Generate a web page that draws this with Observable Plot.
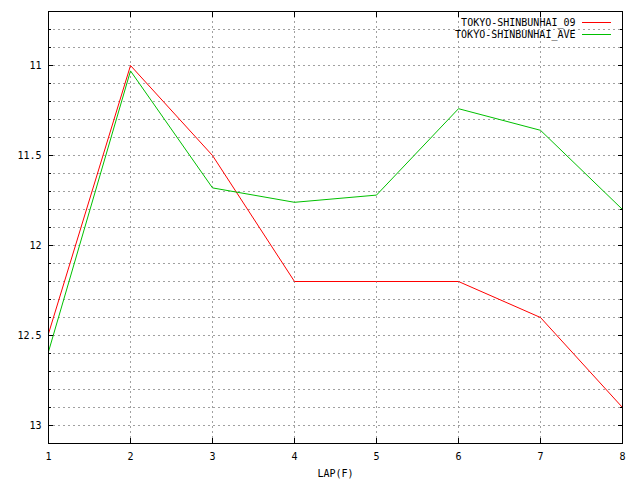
<!DOCTYPE html>
<html>
<head>
<meta charset="utf-8">
<script src="https://cdn.jsdelivr.net/npm/d3@7"></script>
<script src="https://cdn.jsdelivr.net/npm/@observablehq/plot@0.6"></script>
<style>
  body { margin: 0; background: #fff; }
</style>
</head>
<body>
<div id="chart"></div>
<script>
// laps (furlongs) and lap times
const laps = [1, 2, 3, 4, 5, 6, 7, 8]
const lap09 = [12.49, 11.0, 11.5, 12.2, 12.2, 12.2, 12.4, 12.9]
const lapAve = [12.59, 11.03, 11.68, 11.76, 11.72, 11.24, 11.36, 11.8]
const names = ['TOKYO-SHINBUNHAI_09', 'TOKYO-SHINBUNHAI_AVE']
const colors = ['#ff0000', '#00c000']

// ticks
const yMajor = [11, 11.5, 12, 12.5, 13]
const yMinor = [10.8, 10.9, 11.1, 11.2, 11.3, 11.4, 11.6, 11.7, 11.8, 11.9,
  12.1, 12.2, 12.3, 12.4, 12.6, 12.7, 12.8, 12.9]
const yGrid = yMajor.concat(yMinor)

const data = laps.flatMap((lap, i) => [
  {lap, time: lap09[i], serie: names[0]},
  {lap, time: lapAve[i], serie: names[1]},
])

const grid = {stroke: '#a0a0a0', strokeOpacity: 1, strokeDasharray: '2,3', shapeRendering: 'crispEdges'}
const blank = () => ''

let chart = Plot.plot({
  width: 640,
  height: 480,
  marginLeft: 48,
  marginRight: 18,
  marginTop: 11,
  marginBottom: 37,
  style: {fontFamily: 'DejaVu Sans Mono', fontSize: '10px', background: '#fff', color: '#000'},
  x: {domain: [1, 8], label: null},
  y: {domain: [10.7, 13.1], reverse: true, label: null},
  color: {domain: names, range: colors},
  marks: [
    Plot.gridY(yGrid, grid),
    Plot.gridX(laps.slice(1, -1), grid),
    Plot.line(data, {x: 'lap', y: 'time', z: 'serie', stroke: 'serie', strokeWidth: 1}),
    Plot.frame({stroke: '#000', shapeRendering: 'crispEdges'}),
    // labels
    Plot.axisY(yMajor, {anchor: 'left', tickSize: 0, tickPadding: 7, tickFormat: d => String(d)}),
    Plot.axisX(laps, {anchor: 'bottom', tickSize: 0, tickPadding: 9, tickFormat: d => String(d)}),
    // inward ticks on all four sides
    Plot.axisY(yMajor, {anchor: 'left', tickSize: -5, tickFormat: blank, shapeRendering: 'crispEdges'}),
    Plot.axisY(yMajor, {anchor: 'right', tickSize: -5, tickFormat: blank, shapeRendering: 'crispEdges'}),
    Plot.axisY(yMinor, {anchor: 'left', tickSize: -3, tickFormat: blank, shapeRendering: 'crispEdges'}),
    Plot.axisY(yMinor, {anchor: 'right', tickSize: -3, tickFormat: blank, shapeRendering: 'crispEdges'}),
    Plot.axisX(laps, {anchor: 'top', tickSize: -5, tickFormat: blank, shapeRendering: 'crispEdges'}),
    Plot.axisX(laps, {anchor: 'bottom', tickSize: -5, tickFormat: blank, shapeRendering: 'crispEdges'}),
    Plot.text(['LAP(F)'], {frameAnchor: 'bottom', lineAnchor: 'middle', dy: 30}),
    // legend text
    Plot.text([names[0]], {frameAnchor: 'top-right', textAnchor: 'end', lineAnchor: 'middle', dx: -47, dy: 11}),
    Plot.text([names[1]], {frameAnchor: 'top-right', textAnchor: 'end', lineAnchor: 'middle', dx: -47, dy: 23}),
  ],
})

// legend samples
const svg = d3.select(chart)
names.forEach((n, i) => {
  svg.append('line')
    .attr('x1', 582).attr('x2', 611)
    .attr('y1', 22 + i * 12).attr('y2', 22 + i * 12)
    .attr('stroke', colors[i])
    .attr('shape-rendering', 'crispEdges')
})

d3.select('#chart').append(() => chart)
</script>
</body>
</html>
